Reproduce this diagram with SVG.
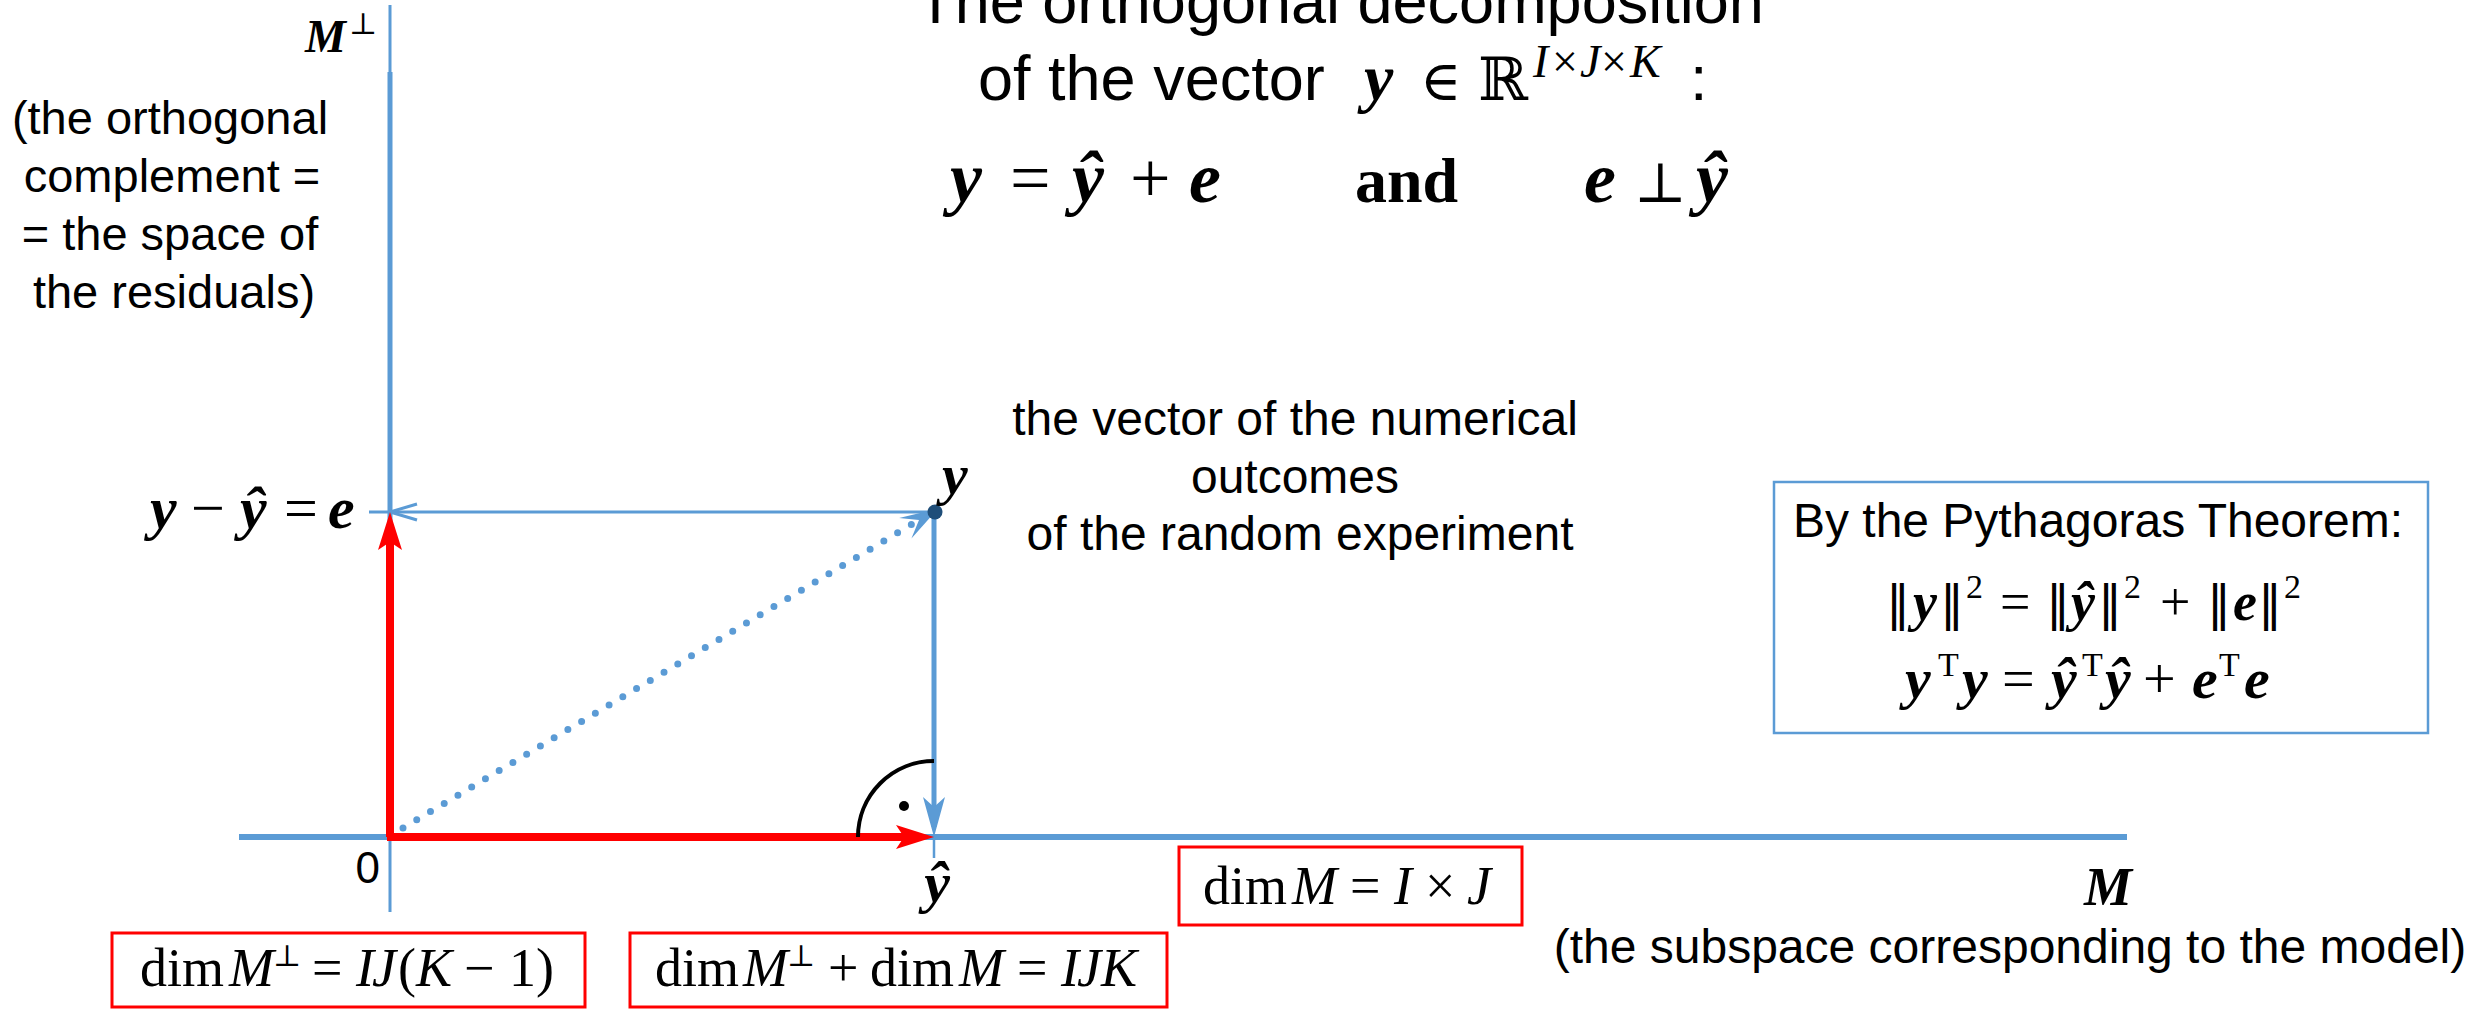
<svg xmlns="http://www.w3.org/2000/svg" width="2474" height="1010" viewBox="0 0 2474 1010">
<defs>
<style>
.sans{font-family:"Liberation Sans",Arial,sans-serif;fill:#000}
.mth{font-family:"Liberation Serif","DejaVu Serif","DejaVu Sans",serif;fill:#000}
.sym{font-family:"DejaVu Serif","DejaVu Sans",serif;fill:#000}
.bar{font-family:"DejaVu Sans",sans-serif;font-style:normal;font-weight:normal;font-size:48px}
.bi{font-weight:bold;font-style:italic}
.it{font-style:italic}
.up{font-style:normal;font-weight:normal}
.axis{stroke:#5B9BD5;fill:none}
.redbox{fill:#fff;stroke:#FF0000;stroke-width:3}
.bluebox{fill:#fff;stroke:#5B9BD5;stroke-width:2.5}
</style>
<marker id="redHead" markerUnits="userSpaceOnUse" markerWidth="40" markerHeight="24" viewBox="0 0 40 24" refX="24" refY="12" orient="auto" overflow="visible">
<path d="M0,0 L38,12 L0,24 L8,12 Z" fill="#FF0000"/>
</marker>
<marker id="blueHead" markerUnits="userSpaceOnUse" markerWidth="40" markerHeight="22" viewBox="0 0 40 22" refX="30" refY="11" orient="auto" overflow="visible">
<path d="M0,0 L40,11 L0,22 L10,11 Z" fill="#5B9BD5"/>
</marker>
<marker id="dotHead" markerUnits="userSpaceOnUse" markerWidth="40" markerHeight="24" viewBox="0 0 40 24" refX="16" refY="12" orient="auto" overflow="visible">
<path d="M0,0 L38,12 L0,24 L16,12 Z" fill="#5B9BD5"/>
</marker>
<marker id="openHead" markerUnits="userSpaceOnUse" markerWidth="30" markerHeight="20" viewBox="0 0 30 20" refX="27" refY="10" orient="auto" overflow="visible">
<path d="M0,2 L27,10 L0,18" fill="none" stroke="#5B9BD5" stroke-width="3"/>
</marker>
</defs>
<rect width="2474" height="1010" fill="#fff"/>

<!-- title -->
<g id="title">
<text class="sans" font-size="63" text-anchor="middle" x="1340" y="23">The orthogonal decomposition</text>
<text class="sans" font-size="63" x="978" y="100">of the vector</text>
<text class="mth bi" font-size="66" x="1364" y="100">y</text>
<text class="sym" font-size="56" x="1420" y="100">∈</text>
<text class="sym" font-size="60" x="1478" y="100">ℝ</text>
<text class="mth it" font-size="46" y="77"><tspan x="1533">I</tspan><tspan class="up" x="1552">×</tspan><tspan x="1580">J</tspan><tspan class="up" x="1601">×</tspan><tspan x="1630">K</tspan></text>
<text class="sans" font-size="63" x="1690" y="100">:</text>
<text class="mth" font-size="72" y="202"><tspan class="bi" x="950">y</tspan><tspan x="1010">=</tspan><tspan class="bi" x="1072">ŷ</tspan><tspan x="1130">+</tspan><tspan class="bi" x="1189">e</tspan><tspan font-weight="bold" font-size="64" x="1355">and</tspan><tspan class="bi" x="1584">e</tspan><tspan x="1634" font-family="DejaVu Serif" font-size="56">⊥</tspan><tspan class="bi" x="1696">ŷ</tspan></text>
</g>

<!-- axes -->
<g id="axis-Mperp">
<line class="axis" x1="390" y1="5" x2="390" y2="912" stroke-width="3"/>
<line class="axis" x1="390" y1="72" x2="390" y2="836" stroke-width="5"/>
<text class="mth bi" font-size="46" x="305" y="52">M<tspan class="up" font-family="DejaVu Serif" font-size="30" x="349" dy="-18">⊥</tspan></text>
<text class="sans" font-size="47" text-anchor="middle"><tspan x="170" y="134">(the orthogonal</tspan><tspan x="172" y="192">complement =</tspan><tspan x="170" y="250">= the space of</tspan><tspan x="174" y="308">the residuals)</tspan></text>
</g>
<g id="axis-M">
<line class="axis" x1="239" y1="837" x2="2127" y2="837" stroke-width="6"/>
<line class="axis" x1="934" y1="837" x2="934" y2="858" stroke-width="2.5"/>
<text class="mth bi" font-size="54" x="2084" y="905">M</text>
<text class="sans" font-size="48" text-anchor="middle" x="2010" y="963">(the subspace corresponding to the model)</text>
</g>

<g id="origin"><text class="sans" font-size="44" text-anchor="end" x="380" y="883">0</text></g>

<!-- connectors -->
<g id="connectors">
<line x1="403" y1="828" x2="919" y2="520" stroke="#5B9BD5" stroke-width="7" stroke-linecap="round" stroke-dasharray="0 16" marker-end="url(#dotHead)"/>
<path d="M934,512 L390,512 L369,512" fill="none" stroke="#5B9BD5" stroke-width="3" marker-mid="url(#openHead)"/>
<line x1="934" y1="512" x2="934" y2="827" stroke="#5B9BD5" stroke-width="5" marker-end="url(#blueHead)"/>
<line x1="390" y1="837" x2="390" y2="526" stroke="#FF0000" stroke-width="8" marker-end="url(#redHead)"/>
<line x1="387" y1="837" x2="920" y2="837" stroke="#FF0000" stroke-width="8" marker-end="url(#redHead)"/>
<path d="M858,837 A76,76 0 0 1 934,761" fill="none" stroke="#000" stroke-width="4"/>
<circle cx="904" cy="806" r="5" fill="#000"/>
</g>

<!-- point y -->
<g id="point-y">
<circle cx="935" cy="512" r="7.5" fill="#1F4E79"/>
<text class="mth bi" font-size="58" x="942" y="494">y</text>
</g>

<g id="label-e">
<text class="mth" font-size="60" y="528"><tspan class="bi" x="150">y</tspan><tspan x="191">−</tspan><tspan class="bi" x="240">ŷ</tspan><tspan x="284">=</tspan><tspan class="bi" x="328">e</tspan></text>
</g>

<g id="label-yhat">
<text class="mth bi" font-size="58" text-anchor="middle" x="937" y="902">ŷ</text>
</g>

<g id="desc-y">
<text class="sans" font-size="48" text-anchor="middle"><tspan x="1295" y="435">the vector of the numerical</tspan><tspan x="1295" y="493">outcomes</tspan><tspan x="1300" y="550">of the random experiment</tspan></text>
</g>

<g id="pythagoras">
<rect class="bluebox" x="1774" y="482" width="654" height="251"/>
<text class="sans" font-size="48" text-anchor="middle" x="2098" y="537">By the Pythagoras Theorem:</text>
<text class="mth" font-size="54" y="620"><tspan class="bar" x="1886">‖</tspan><tspan class="bi" x="1913">y</tspan><tspan class="bar" x="1940">‖</tspan><tspan font-size="34" x="1966" dy="-22">2</tspan><tspan x="2000" dy="22">=</tspan><tspan class="bar" x="2046">‖</tspan><tspan class="bi" x="2071">ŷ</tspan><tspan class="bar" x="2098">‖</tspan><tspan font-size="34" x="2124" dy="-22">2</tspan><tspan x="2160" dy="22">+</tspan><tspan class="bar" x="2207">‖</tspan><tspan class="bi" x="2233">e</tspan><tspan class="bar" x="2258">‖</tspan><tspan font-size="34" x="2284" dy="-22">2</tspan></text>
<text class="mth" font-size="58" y="698"><tspan class="bi" x="1905">y</tspan><tspan font-size="34" x="1938" dy="-22">T</tspan><tspan class="bi" x="1962" dy="22">y</tspan><tspan x="2002">=</tspan><tspan class="bi" x="2051">ŷ</tspan><tspan font-size="34" x="2082" dy="-22">T</tspan><tspan class="bi" x="2105" dy="22">ŷ</tspan><tspan x="2143">+</tspan><tspan class="bi" x="2192">e</tspan><tspan font-size="34" x="2219" dy="-22">T</tspan><tspan class="bi" x="2244" dy="22">e</tspan></text>
</g>

<g id="box-dimMperp">
<rect class="redbox" x="112" y="933" width="473" height="74"/>
<text class="mth" font-size="54" y="986"><tspan x="140">dim</tspan><tspan class="it" x="229">M</tspan><tspan font-family="DejaVu Serif" font-size="30" x="273" dy="-20">⊥</tspan><tspan x="312" dy="20">=</tspan><tspan class="it" x="356">I</tspan><tspan class="it" x="372">J</tspan><tspan x="398">(</tspan><tspan class="it" x="416">K</tspan><tspan x="464">−</tspan><tspan x="509">1</tspan><tspan x="536">)</tspan></text>
</g>

<g id="box-sum">
<rect class="redbox" x="630" y="933" width="537" height="74"/>
<text class="mth" font-size="54" y="986"><tspan x="655">dim</tspan><tspan class="it" x="743">M</tspan><tspan font-family="DejaVu Serif" font-size="30" x="787" dy="-20">⊥</tspan><tspan x="828" dy="20">+</tspan><tspan x="870">dim</tspan><tspan class="it" x="959">M</tspan><tspan x="1017">=</tspan><tspan class="it" x="1061">I</tspan><tspan class="it" x="1077">J</tspan><tspan class="it" x="1101">K</tspan></text>
</g>

<g id="box-dimM">
<rect class="redbox" x="1179" y="847" width="343" height="78"/>
<text class="mth" font-size="54" y="904"><tspan x="1203">dim</tspan><tspan class="it" x="1292">M</tspan><tspan x="1350">=</tspan><tspan class="it" x="1394">I</tspan><tspan x="1425">×</tspan><tspan class="it" x="1467">J</tspan></text>
</g>
</svg>
